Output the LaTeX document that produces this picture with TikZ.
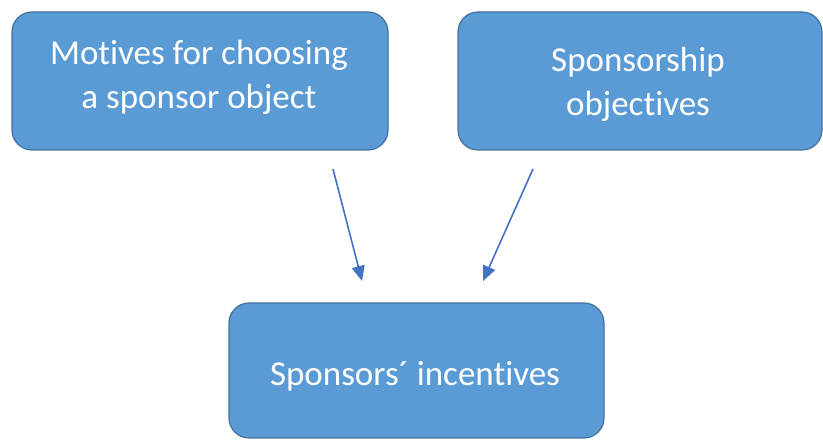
\documentclass[tikz,border=0pt]{standalone}
\usepackage{fontspec}
\setmainfont[Ligatures={NoCommon}]{Carlito}
\usetikzlibrary{arrows.meta}
\definecolor{boxfill}{HTML}{5B9BD5}
\definecolor{boxline}{HTML}{41719C}
\definecolor{arrowcol}{HTML}{4472C4}
\tikzset{
  blk/.style={draw=boxline, line width=1.2pt, fill=boxfill, rounded corners=20pt, inner sep=0pt},
  lbl/.style={text=white, align=center, font=\fontsize{35}{44}\selectfont, inner sep=0pt},
  conn/.style={draw=arrowcol, line width=1.6pt, -{Triangle[length=15pt,width=13pt]}}
}
\begin{document}
\begin{tikzpicture}[x=1pt,y=1pt]
\path[use as bounding box] (0,0) rectangle (823,441);
\node[blk, minimum width=376pt, minimum height=138pt] (mot) at (200,360) {};
\node[lbl] (motl) at (199,364) {Motives for choosing\\a sponsor object};
\node[blk, minimum width=364pt, minimum height=138pt] (obj) at (640,360) {};
\node[lbl] (objl) at (638,357) {Sponsorship\\objectives};
\node[blk, minimum width=375pt, minimum height=135pt] (inc) at (416.5,70.5) {};
\node[lbl] (incl) at (415,65) {Sponsors´ incentives};
\coordinate (a1s) at (333,272);
\coordinate (a1e) at (362,160);
\coordinate (a2s) at (533,272);
\coordinate (a2e) at (483,160);
\draw[conn] (a1s) -- (a1e);
\draw[conn] (a2s) -- (a2e);
\end{tikzpicture}
\end{document}
